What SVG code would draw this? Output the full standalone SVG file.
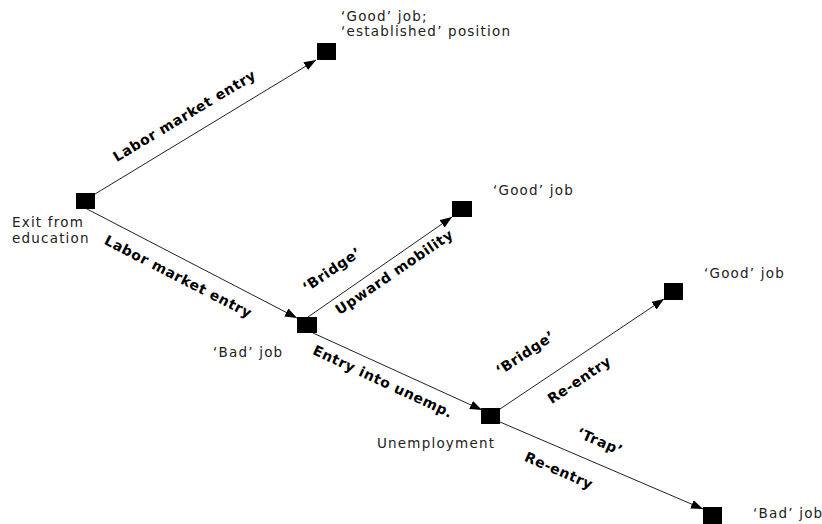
<svg xmlns="http://www.w3.org/2000/svg" width="822" height="524" viewBox="0 0 822 524">
<style>
.nd{fill:#000}
.lbl{font-family:"DejaVu Sans",Verdana,sans-serif;font-size:13.5px;letter-spacing:1.2px;fill:#222}
.el{font-family:"DejaVu Sans",Verdana,sans-serif;font-size:14px;font-weight:bold;letter-spacing:0.6px;fill:#000;text-anchor:middle}
.cn{stroke:#222;stroke-width:1;fill:none;marker-end:url(#ah)}
</style>
<defs>
<marker id="ah" markerUnits="userSpaceOnUse" markerWidth="13" markerHeight="10" refX="12" refY="4.5" orient="auto">
<path d="M0,0 L12,4.5 L0,9 z" fill="#000"/>
</marker>
</defs>
<rect width="822" height="524" fill="#fff"/>
<g id="connectors">
<line class="cn" x1="95" y1="194" x2="316" y2="60"/>
<line class="cn" x1="87" y1="209" x2="297" y2="318"/>
<line class="cn" x1="308" y1="317" x2="452" y2="217"/>
<line class="cn" x1="313" y1="333" x2="482" y2="410"/>
<line class="cn" x1="500" y1="409" x2="664" y2="299"/>
<line class="cn" x1="500" y1="422" x2="703" y2="509"/>
<text class="el" transform="translate(187,120) rotate(-31)">Labor market entry</text>
<text class="el" transform="translate(176,281) rotate(27.2)">Labor market entry</text>
<text class="el" transform="translate(334.5,273.7) rotate(-34.3)">‘Bridge’</text>
<text class="el" transform="translate(397,276) rotate(-34.3)">Upward mobility</text>
<text class="el" transform="translate(381,386) rotate(24.9)">Entry into unemp.</text>
<text class="el" transform="translate(528,357) rotate(-33.8)">‘Bridge’</text>
<text class="el" transform="translate(582,384) rotate(-33.8)">Re-entry</text>
<text class="el" transform="translate(598,446) rotate(23.5)">‘Trap’</text>
<text class="el" transform="translate(557,475) rotate(23.5)">Re-entry</text>
</g>
<g id="exit">
<rect class="nd" x="76" y="193" width="19" height="16"/>
<text class="lbl" x="12" y="227">Exit from</text>
<text class="lbl" x="12" y="243">education</text>
</g>
<g id="good-established">
<rect class="nd" x="317" y="43" width="19" height="17"/>
<text class="lbl" x="341" y="21">‘Good’ job;</text>
<text class="lbl" x="341" y="36">‘established’ position</text>
</g>
<g id="bad-job">
<rect class="nd" x="297" y="317" width="20" height="16"/>
<text class="lbl" x="213" y="357">‘Bad’ job</text>
</g>
<g id="good-job-2">
<rect class="nd" x="452" y="201" width="20" height="16"/>
<text class="lbl" x="493" y="195">‘Good’ job</text>
</g>
<g id="unemployment">
<rect class="nd" x="481" y="408" width="19" height="16"/>
<text class="lbl" x="377" y="448">Unemployment</text>
</g>
<g id="good-job-3">
<rect class="nd" x="664" y="283" width="19" height="17"/>
<text class="lbl" x="704" y="278">‘Good’ job</text>
</g>
<g id="bad-job-2">
<rect class="nd" x="703" y="507" width="19" height="17"/>
<text class="lbl" x="753" y="518">‘Bad’ job</text>
</g>
</svg>
